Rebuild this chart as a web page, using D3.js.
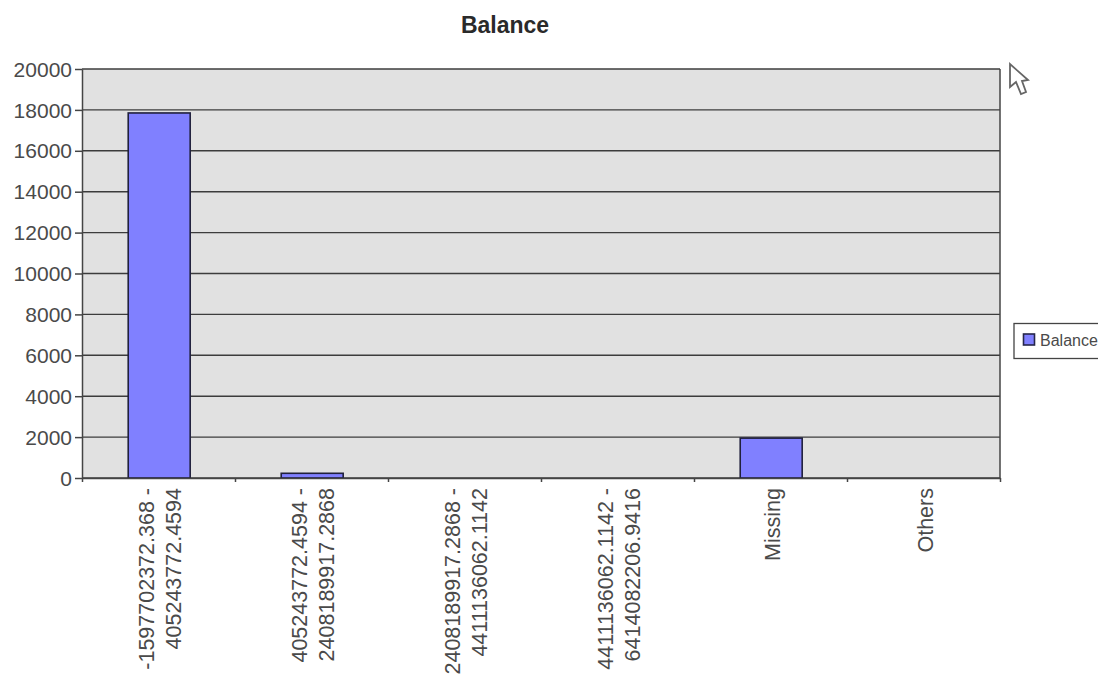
<!DOCTYPE html>
<html>
<head>
<meta charset="utf-8">
<style>
  html, body { margin: 0; padding: 0; background: #fff; overflow: hidden; }
  text { font-family: "Liberation Sans", Arial, sans-serif; fill: #4a4a4a; }
</style>
<script src="https://cdn.jsdelivr.net/npm/d3@7/dist/d3.min.js"></script>
</head>
<body>
<svg id="chart" width="1098" height="675"></svg>
<script>
const chartTitle = "Balance";
const seriesName = "Balance";
const categories = ["c1", "c2", "c3", "c4", "Missing", "Others"];
const categoryLines = [
  ["-1597702372.368 -", "405243772.4594"],
  ["405243772.4594 -", "2408189917.2868"],
  ["2408189917.2868 -", "4411136062.1142"],
  ["4411136062.1142 -", "6414082206.9416"],
  ["Missing"],
  ["Others"]
];
const values = [17850, 230, 0, 0, 1950, 0];
const yTicks = [0, 2000, 4000, 6000, 8000, 10000, 12000, 14000, 16000, 18000, 20000];

const plot = { left: 82, right: 1000, top: 69, bottom: 478 };
const svg = d3.select("#chart");

const x = d3.scaleBand().domain(categories).range([plot.left, plot.right]).paddingInner(0).paddingOuter(0);
const y = d3.scaleLinear().domain([0, 20000]).range([plot.bottom, plot.top]);
const edges = d3.scaleLinear().domain([0, categories.length]).range([plot.left, plot.right]);

// Plot background
svg.append("rect")
  .attr("x", plot.left).attr("y", plot.top)
  .attr("width", plot.right - plot.left).attr("height", plot.bottom - plot.top)
  .attr("fill", "#e1e1e1");

// Horizontal gridlines
svg.append("g").selectAll("line").data(yTicks).join("line")
  .attr("x1", plot.left).attr("x2", plot.right)
  .attr("y1", d => y(d)).attr("y2", d => y(d))
  .attr("stroke", "#3c3c3c").attr("stroke-width", 1.4);

// Bars
const barWidth = x.bandwidth() * 0.405;
svg.append("g").selectAll("rect").data(values.map((v, i) => ({ v, c: categories[i] })).filter(d => d.v > 0)).join("rect")
  .attr("x", d => x(d.c) + (x.bandwidth() - barWidth) / 2 + 0.7)
  .attr("width", barWidth)
  .attr("y", d => y(d.v))
  .attr("height", d => y(0) - y(d.v))
  .attr("fill", "#8080ff")
  .attr("stroke", "#20203c").attr("stroke-width", 1.6);

// Y axis with outward ticks
const yAxis = svg.append("g").attr("transform", `translate(${plot.left},0)`)
  .call(d3.axisLeft(y).tickValues(yTicks).tickSize(7).tickSizeOuter(0).tickFormat(d3.format("d")));
yAxis.selectAll("text")
  .attr("x", -10)
  .attr("dy", "0.34em")
  .attr("font-family", null)
  .attr("font-size", 21)
  .attr("fill", null);
yAxis.attr("font-size", null).attr("font-family", null);
yAxis.selectAll("path, line").attr("stroke", "#444").attr("stroke-width", 1.5);

// X axis with ticks on category boundaries
const xAxis = svg.append("g").attr("transform", `translate(0,${plot.bottom})`)
  .call(d3.axisBottom(edges).tickValues(d3.range(0, categories.length + 1)).tickSize(4).tickSizeOuter(0).tickFormat(""));
xAxis.selectAll("path, line").attr("stroke", "#444").attr("stroke-width", 1.5);

// Right border of the plot frame
svg.append("line")
  .attr("x1", plot.right).attr("x2", plot.right)
  .attr("y1", plot.top).attr("y2", plot.bottom)
  .attr("stroke", "#444").attr("stroke-width", 1.5);

// Rotated category labels, end-anchored under the axis
const lineGap = 27;
categories.forEach((c, i) => {
  const lines = categoryLines[i];
  const cx = x(c) + x.bandwidth() / 2;
  lines.forEach((t, j) => {
    const offset = (j - (lines.length - 1) / 2) * lineGap;
    svg.append("text")
      .attr("transform", `translate(${cx + offset + 9},488) rotate(-90)`)
      .attr("text-anchor", "end")
      .attr("font-size", 21.5)
      .text(t);
  });
});

// Title
svg.append("text")
  .attr("x", 505).attr("y", 33)
  .attr("text-anchor", "middle")
  .attr("font-size", 23)
  .attr("font-weight", "bold")
  .attr("style", "fill:#2a2a2a")
  .text(chartTitle);

// Legend
svg.append("rect")
  .attr("x", 1014).attr("y", 323.5).attr("width", 90).attr("height", 35)
  .attr("fill", "#fff").attr("stroke", "#444").attr("stroke-width", 1.3);
svg.append("rect")
  .attr("x", 1023.5).attr("y", 334).attr("width", 11).attr("height", 11)
  .attr("fill", "#8080ff").attr("stroke", "#26264a").attr("stroke-width", 1.6);
svg.append("text")
  .attr("x", 1040).attr("y", 346)
  .attr("font-size", 16)
  .text(seriesName);

// Mouse pointer
svg.append("path")
  .attr("d", "M1010,64 L1010,87 L1016,82 L1021,94 L1026,92 L1022,81 L1028,80 Z")
  .attr("fill", "#fff").attr("stroke", "#666").attr("stroke-width", 1.8);
</script>
</body>
</html>
